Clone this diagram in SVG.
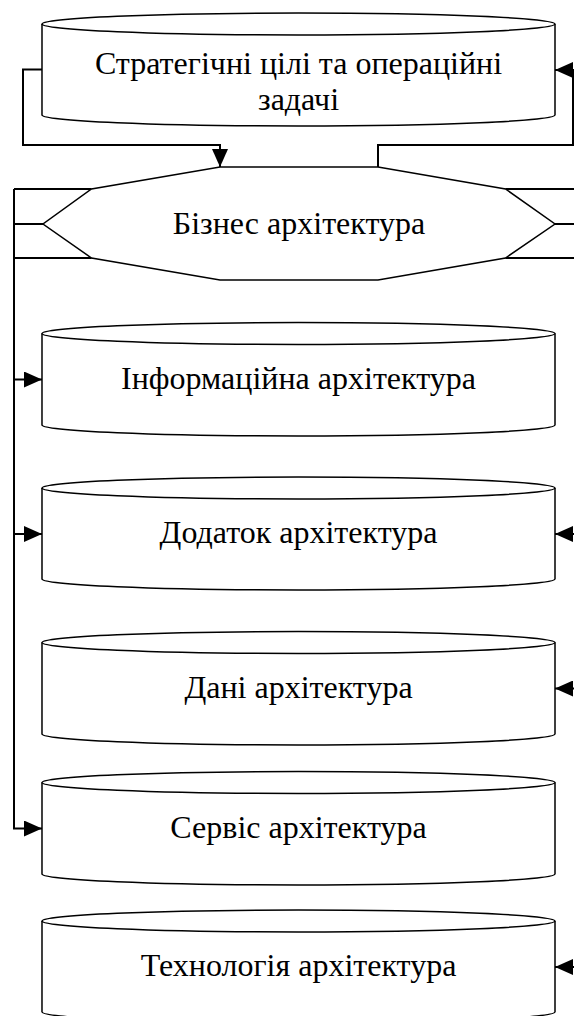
<svg xmlns="http://www.w3.org/2000/svg" width="574" height="1016" viewBox="0 0 574 1016">
<defs>
<style>
.shape{fill:#fff;stroke:#000;stroke-width:1.5}
.edge{fill:none;stroke:#000;stroke-width:1.5}
.conn{fill:none;stroke:#000;stroke-width:2}
.lbl{font-family:"Liberation Serif","Times New Roman",serif;font-size:32px;fill:#000;text-anchor:middle}
</style>
<marker id="arr" markerUnits="userSpaceOnUse" markerWidth="18" markerHeight="16" refX="18" refY="8" orient="auto">
<path d="M0,0 L18,8 L0,16 z" fill="#000"/>
</marker>
</defs>
<rect width="574" height="1016" fill="#fff"/>
<g id="connectors">
<path class="conn" d="M42,69.5 H23 V145 H220 V167" marker-end="url(#arr)"/>
<path class="conn" d="M378,167 V145 H573 V70 H555" marker-end="url(#arr)"/>
<path class="conn" d="M14,189 V828.5 H42" marker-end="url(#arr)"/>
<path class="conn" d="M14,189 H91.5 M14,224 H43 M14,258 H91.5"/>
<path class="conn" d="M505.5,189 H580 M555,224 H580 M505.5,258 H580"/>
<path class="conn" d="M14,379.5 H42" marker-end="url(#arr)"/>
<path class="conn" d="M14,534 H42" marker-end="url(#arr)"/>
<path class="conn" d="M580,534 H555" marker-end="url(#arr)"/>
<path class="conn" d="M580,688.5 H555" marker-end="url(#arr)"/>
<path class="conn" d="M580,967 H555" marker-end="url(#arr)"/>
</g>
<g id="strategic">
<path class="shape" d="M42,24 A256.5,11 0 0 1 555,24 L555,115 A256.5,11 0 0 1 42,115 Z"/>
<path class="edge" d="M42,24 A256.5,11 0 0 0 555,24"/>
<text class="lbl" x="298.5" y="73.5">Стратегічні цілі та операційні</text>
<text class="lbl" x="298.5" y="110">задачі</text>
</g>
<g id="business">
<polygon class="shape" points="220,167 378,167 505.5,189 555,224 505.5,258 378,280 220,280 91.5,258 43,224 91.5,189"/>
<text class="lbl" x="299" y="234">Бізнес архітектура</text>
</g>
<g id="information">
<path class="shape" d="M42,333.5 A256.5,11 0 0 1 555,333.5 L555,425 A256.5,11 0 0 1 42,425 Z"/>
<path class="edge" d="M42,333.5 A256.5,11 0 0 0 555,333.5"/>
<text class="lbl" x="298.5" y="388.5">Інформаційна архітектура</text>
</g>
<g id="application">
<path class="shape" d="M42,488 A256.5,11 0 0 1 555,488 L555,579 A256.5,11 0 0 1 42,579 Z"/>
<path class="edge" d="M42,488 A256.5,11 0 0 0 555,488"/>
<text class="lbl" x="298.5" y="543">Додаток архітектура</text>
</g>
<g id="data">
<path class="shape" d="M42,642.5 A256.5,11 0 0 1 555,642.5 L555,734 A256.5,11 0 0 1 42,734 Z"/>
<path class="edge" d="M42,642.5 A256.5,11 0 0 0 555,642.5"/>
<text class="lbl" x="298.5" y="697.5">Дані архітектура</text>
</g>
<g id="service">
<path class="shape" d="M42,782.5 A256.5,11 0 0 1 555,782.5 L555,874 A256.5,11 0 0 1 42,874 Z"/>
<path class="edge" d="M42,782.5 A256.5,11 0 0 0 555,782.5"/>
<text class="lbl" x="298.5" y="837.5">Сервіс архітектура</text>
</g>
<g id="technology">
<path class="shape" d="M42,921 A256.5,11 0 0 1 555,921 L555,1012 A256.5,11 0 0 1 42,1012 Z"/>
<path class="edge" d="M42,921 A256.5,11 0 0 0 555,921"/>
<text class="lbl" x="298.5" y="976">Технологія архітектура</text>
</g>
</svg>
